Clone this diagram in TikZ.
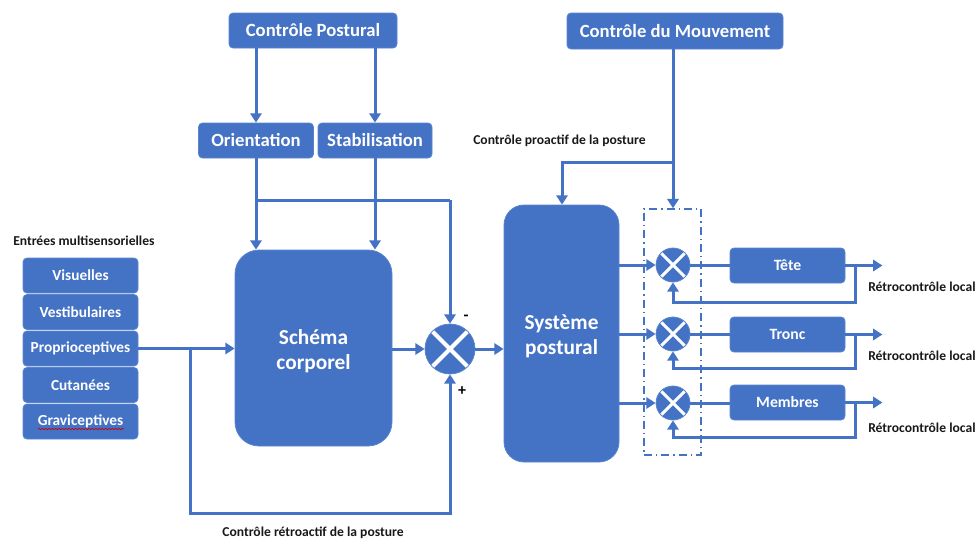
\documentclass[tikz,border=0pt]{standalone}
\usepackage{fontspec}
\setmainfont{Carlito}
\usetikzlibrary{arrows.meta,decorations.pathmorphing}
\definecolor{blu}{HTML}{4472C4}
\definecolor{bluedge}{HTML}{5A84CE}
\begin{document}
\begin{tikzpicture}[x=0.75pt,y=-0.75pt,
  box/.style={fill=blu,draw=bluedge,line width=0.6pt,rounded corners=3pt,text=white,font=\bfseries,align=center,inner sep=0pt},
  bigbox/.style={box,rounded corners=18pt,font=\bfseries\fontsize{16}{19}\selectfont},
  conn/.style={draw=blu,line width=2.25pt},
  arr/.style={conn,-{Triangle[width=8.5pt,length=7pt]}},
  sumnode/.style={circle,fill=blu,draw=bluedge,line width=0.6pt,inner sep=0pt,
    path picture={\draw[white,line width=#1] (path picture bounding box.north west)--(path picture bounding box.south east)
      (path picture bounding box.north east)--(path picture bounding box.south west);}},
  lbl/.style={font=\bfseries\fontsize{10.2}{12}\selectfont,text=black!90,inner sep=0pt}
]
\useasboundingbox (0,0) rectangle (977,539);

% top boxes
\node[box,minimum width=126pt,minimum height=26.25pt,font=\bfseries\fontsize{14}{16}\selectfont] (cp) at (313,30.5) {Contrôle Postural};
\node[box,minimum width=162pt,minimum height=27pt,font=\bfseries\fontsize{14}{16}\selectfont] (cm) at (675,31) {Contrôle du Mouvement};
\node[box,minimum width=86.25pt,minimum height=26.25pt,font=\bfseries\fontsize{14}{16}\selectfont] (ori) at (256,140.5) {Orientation};
\node[box,minimum width=85.5pt,minimum height=26.25pt,font=\bfseries\fontsize{14}{16}\selectfont] (stab) at (375,140.5) {Stabilisation};

% big boxes
\node[bigbox,minimum width=117.75pt,minimum height=147pt] (sch) at (313.5,348) {};
\node[text=white,font=\bfseries\fontsize{16}{19}\selectfont,align=center,inner sep=0pt] (scht) at (313.5,351) {Schéma\\corporel};
\node[bigbox,rounded corners=15pt,minimum width=86.25pt,minimum height=192.75pt] (sys) at (561.5,333.5) {};
\node[text=white,font=\bfseries\fontsize{16}{19}\selectfont,align=center,inner sep=0pt] (syst) at (561.5,336) {Système\\postural};

% input boxes
\foreach \n/\t/\y in {vis/Visuelles/275.5, ves/Vestibulaires/312, pro/Proprioceptives/348.5, cut/Cutanées/385, gra/Graviceptives/421.5}
  \node[box,minimum width=86.25pt,minimum height=26.25pt,font=\bfseries\fontsize{11.5}{13}\selectfont] (\n) at (80.5,\y) {\t};
\draw[red!80!black,line width=0.5pt,decorate,decoration={snake,amplitude=0.5pt,segment length=2.5pt}] (38,429) -- (124,429);

% main sum
\node[sumnode=3pt,minimum size=37.5pt] (sum) at (450,349) {};
\node[font=\bfseries\fontsize{12}{13}\selectfont,inner sep=0pt] (minus) at (466,318) {-};
\node[font=\bfseries\fontsize{12}{13}\selectfont,inner sep=0pt] (plus) at (462,391) {+};

% right side
\node[draw=blu,line width=1.1pt,dash pattern=on 6pt off 3pt on 1pt off 3pt,minimum width=42.75pt,minimum height=184.5pt,inner sep=0pt] (dbox) at (672.5,332) {};
\foreach \n/\y in {s1/265, s2/334, s3/403}
  \node[sumnode=2.2pt,minimum size=25.5pt] (\n) at (673,\y) {};
\foreach \n/\t/\y in {tete/Tête/265.5, tronc/Tronc/334.5, memb/Membres/402.5}
  \node[box,minimum width=86.25pt,minimum height=26.25pt,font=\bfseries\fontsize{11.8}{13}\selectfont] (\n) at (787.5,\y) {\t};

% labels
\node[lbl,anchor=west] (lent) at (13,241) {Entrées multisensorielles};
\node[lbl,anchor=west] (lpro) at (473,141) {Contrôle proactif de la posture};
\node[lbl] (lret) at (313,533) {Contrôle rétroactif de la posture};
\node[lbl,anchor=west] (lr1) at (868,287) {Rétrocontrôle local};
\node[lbl,anchor=west] (lr2) at (868,356) {Rétrocontrôle local};
\node[lbl,anchor=west] (lr3) at (868,428) {Rétrocontrôle local};

% coordinates
\coordinate (jt) at (256,200);
\coordinate (jr) at (450,200);
\coordinate (jb) at (190,348.5);
\coordinate (jbb) at (190,513);
\coordinate (jbr) at (450,513);
\coordinate (jc) at (673,162);
\coordinate (jcl) at (562,162);
\coordinate (fs1) at (673,302);
\coordinate (fs2) at (673,368);
\coordinate (fs3) at (673,437);

% connectors left
\draw[arr] (cp.south -| ori) -- (ori.north);
\draw[arr] (cp.south -| stab) -- (stab.north);
\draw[arr] (ori.south) -- (ori.south |- sch.north);
\draw[arr] (stab.south) -- (stab.south |- sch.north);
\draw[conn] (jt) -- (jr);
\draw[arr] (jr) -- (sum.north);
\draw[arr] (pro.east) -- (pro.east -| sch.west);
\draw[arr] (jb) -- (jbb) -- (jbr) -- (sum.south);
\draw[arr] (sch.east |- sum) -- (sum.west);
\draw[arr] (sum.east) -- (sum.east -| sys.west);

% connectors right
\draw[arr] (cm.south -| jc) -- (jc |- dbox.north);
\draw[arr] (jc) -- (jcl) -- (jcl |- sys.north);
\foreach \s/\b in {s1/tete, s2/tronc, s3/memb}{
  \draw[arr] (sys.east |- \s) -- (\s.west);
  \draw[conn] (\s.east) -- (\b.west |- \s);
  \draw[arr] (\b.east) -- ++(37,0);
  \draw[arr] ([xshift=7.5pt]\b.east) -- ([xshift=7.5pt]\b.east |- f\s) -- (f\s) -- (\s.south);
}
\end{tikzpicture}
\end{document}
